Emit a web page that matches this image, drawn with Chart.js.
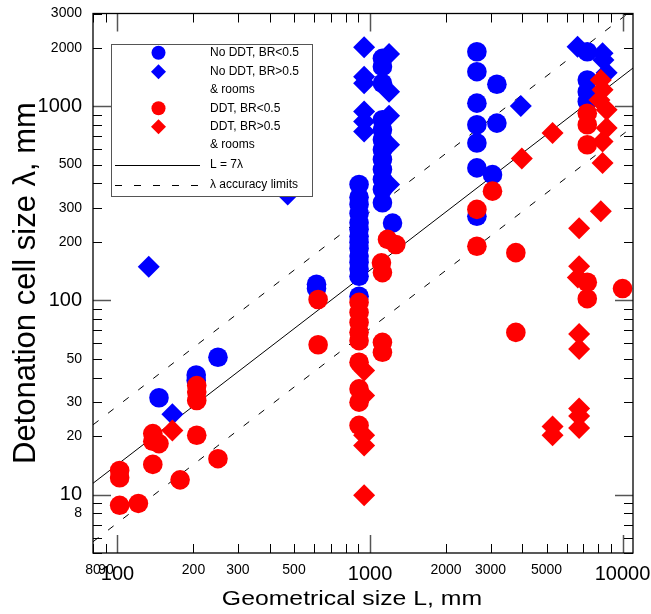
<!DOCTYPE html>
<html><head><meta charset="utf-8">
<script src="https://cdn.jsdelivr.net/npm/chart.js@4/dist/chart.umd.min.js"></script>
<style>html,body{margin:0;padding:0;background:#fff}#wrap{width:651px;height:614px}</style>
</head><body><div id="wrap"><canvas id="c" width="651" height="614"></canvas></div>
<script>
// ---- tick labels ----
const xTickValues = [80, 90, 100, 200, 300, 500, 1000, 2000, 3000, 5000, 10000];
const yTickValues = [8, 10, 20, 30, 50, 100, 200, 300, 500, 1000, 2000, 3000];
const bigTickValues = [10, 100, 1000, 10000];

// ---- data: geometrical size L (mm) and detonation cell size lambda (mm) ----
// No DDT, BR<0.5 (blue circles)
const noDdtLowL = [146, 205, 205, 250, 614, 614,
  905, 905, 905, 905, 905, 905, 905, 905, 905, 905, 905, 905, 905, 905,
  1120, 1120, 1120, 1120, 1120, 1120, 1120, 1120, 1120, 1120, 1120, 1120, 1228,
  2650, 2650, 3180, 2650, 2650, 3180, 2650, 2650, 3055, 2650,
  7250, 7250, 7250, 7250];
const noDdtLowLambda = [31.5, 41.3, 38.7, 50.9, 121, 115,
  395, 340, 312, 280, 251, 232, 214, 199, 185, 169, 157, 145, 133, 105,
  1763, 1597, 1312, 851, 755, 672, 597, 531, 472, 420, 372, 318, 250,
  1906, 1505, 1297, 1036, 802, 818, 646, 481, 444, 271,
  1906, 1364, 1188, 1057];
// No DDT, BR>0.5 & rooms (blue diamonds)
const noDdtHighL = [133, 165, 472,
  948, 948, 948, 948, 948, 948,
  1190, 1190, 1190, 1190, 1190,
  3956, 6634, 8333, 8400, 8650];
const noDdtHighLambda = [149, 25.9, 351,
  2008, 1419, 1312, 938, 834, 741,
  1855, 1188, 892, 633, 395,
  1003, 2022, 1870, 1729, 1487];
// DDT, BR<0.5 (red circles)
const ddtLowL = [102, 102, 102, 121, 138, 138, 146, 138, 177,
  206, 206, 206, 206, 250, 623, 623,
  905, 905, 905, 905, 905, 905, 905, 905, 905,
  1173, 1265, 1110, 1120, 1120, 1120,
  2650, 3055, 2650, 3780, 3780,
  7250, 7250, 7250, 7250, 7250, 10000];
const ddtLowLambda = [13.3, 12.2, 8.8, 9.0, 20.6, 18.8, 18.3, 14.3, 11.9,
  36.4, 33.7, 30.5, 20.2, 15.3, 101, 59.1,
  97.6, 86.7, 77, 68.5, 62, 48, 35, 29.9, 22.7,
  206, 194, 156, 139, 60.8, 54,
  294, 365, 190, 176, 68.4,
  920, 802, 633, 124, 102, 115];
// DDT, BR>0.5 & rooms (red diamonds)
const ddtHighL = [165,
  948, 948, 948, 948, 948,
  3992, 5283, 5283, 5283,
  6730, 6730, 6650, 6730, 6730, 6730, 6730, 6730,
  8204, 8333, 8100, 8650, 8650, 8333, 8333, 8204];
const ddtHighLambda = [21.4,
  43.5, 32.4, 20.2, 17.9, 9.93,
  537, 727, 22.4, 20.2,
  235, 150, 131, 67, 56.2, 27.7, 25.4, 22,
  1364, 1213, 1077, 957, 771, 658, 510, 288];

// ---- reference lines: L = 7 lambda, accuracy limits L = 3.5 lambda and L = 14 lambda ----
const lineL = [80, 11000];
const ratioMain = 7;
const ratioUpper = 3.5;
const ratioLower = 14;

const FONT = "'Liberation Sans', Arial, Helvetica, sans-serif";
const BLUE = '#0000ff';
const RED = '#ff0000';

function pts(L, lam) { return L.map((v, i) => ({ x: v, y: lam[i] })); }
function linePts(r) { return lineL.map(v => ({ x: v, y: v / r })); }

function decadeTicks(decades, lo, hi) {
  const out = [];
  decades.forEach(d => { for (let m = 1; m <= 9; m++) { const v = m * d; if (v >= lo && v <= hi) out.push(v); } });
  return out;
}
const xMarks = decadeTicks([10, 100, 1000, 10000], 80, 11000);
const yMarks = decadeTicks([1, 10, 100, 1000], 5, 3000);

const framePlugin = {
  id: 'frame',
  afterDatasetsDraw(chart) {
    const { ctx, chartArea: a, scales: { x, y } } = chart;
    ctx.save();
    const seg = (x1, y1, x2, y2) => { ctx.beginPath(); ctx.moveTo(x1, y1); ctx.lineTo(x2, y2); ctx.stroke(); };
    xMarks.forEach(v => {
      const p = Math.round(x.getPixelForValue(v)) + 0.5;
      const major = bigTickValues.includes(v);
      const len = major ? 18 : 9;
      ctx.strokeStyle = major ? '#555' : '#000';
      ctx.lineWidth = major ? 1.5 : 1;
      seg(p, a.bottom, p, a.bottom - len);
      seg(p, a.top, p, a.top + len);
    });
    yMarks.forEach(v => {
      const p = Math.round(y.getPixelForValue(v)) + 0.5;
      const major = bigTickValues.includes(v);
      const len = major ? 18 : 9;
      ctx.strokeStyle = major ? '#555' : '#000';
      ctx.lineWidth = major ? 1.5 : 1;
      seg(a.left, p, a.left + len, p);
      seg(a.right, p, a.right - len, p);
    });
    ctx.strokeStyle = '#000';
    ctx.lineWidth = 1.3;
    ctx.strokeRect(a.left, a.top, a.right - a.left, a.bottom - a.top);

    // axis titles
    ctx.fillStyle = '#000';
    ctx.textAlign = 'center';
    ctx.textBaseline = 'alphabetic';
    ctx.save();
    ctx.translate(352, 605);
    ctx.scale(1.18, 1);
    ctx.font = '21px ' + FONT;
    ctx.fillText('Geometrical size L, mm', 0, 0);
    ctx.restore();
    ctx.save();
    ctx.translate(35, 283);
    ctx.rotate(-Math.PI / 2);
    ctx.font = '31px ' + FONT;
    ctx.fillText('Detonation cell size \u03bb, mm', 0, 0);
    ctx.restore();
    ctx.restore();
  },
  afterDraw(chart) {
    const ctx = chart.ctx;
    ctx.save();
    ctx.fillStyle = '#fff';
    ctx.fillRect(111, 44, 201, 152);
    ctx.strokeStyle = '#555';
    ctx.lineWidth = 1;
    ctx.strokeRect(111.5, 44.5, 201, 152);
    const mx = 158.5;
    const rows = [52.7, 71.7, 90, 108.3, 126.7, 145, 165, 185];
    const circle = (yy, c) => { ctx.fillStyle = c; ctx.beginPath(); ctx.arc(mx, yy, 7, 0, Math.PI * 2); ctx.fill(); };
    const diamond = (yy, c) => { const r = 7.5; ctx.fillStyle = c; ctx.beginPath(); ctx.moveTo(mx - r, yy); ctx.lineTo(mx, yy - r); ctx.lineTo(mx + r, yy); ctx.lineTo(mx, yy + r); ctx.closePath(); ctx.fill(); };
    circle(rows[0], BLUE); diamond(rows[1], BLUE); circle(rows[3], RED); diamond(rows[4], RED);
    ctx.strokeStyle = '#000'; ctx.lineWidth = 1;
    ctx.beginPath(); ctx.moveTo(115, rows[6] + 0.5); ctx.lineTo(200, rows[6] + 0.5); ctx.stroke();
    ctx.setLineDash([7, 12]);
    ctx.beginPath(); ctx.moveTo(115, rows[7] + 0.5); ctx.lineTo(200, rows[7] + 0.5); ctx.stroke();
    ctx.setLineDash([]);
    const labels = ['No DDT, BR<0.5', 'No DDT, BR>0.5', '& rooms', 'DDT, BR<0.5', 'DDT, BR>0.5', '& rooms', 'L = 7\u03bb', '\u03bb accuracy limits'];
    ctx.fillStyle = '#000';
    ctx.font = '12px ' + FONT;
    ctx.textAlign = 'left';
    ctx.textBaseline = 'middle';
    labels.forEach((t, i) => ctx.fillText(t, 210, rows[i]));
    ctx.restore();
  }
};

const tickFont = (c) => ({ family: FONT, size: (c.tick && bigTickValues.includes(c.tick.value)) ? 20 : 14 });

new Chart(document.getElementById('c'), {
  type: 'scatter',
  data: {
    datasets: [
      { label: 'No DDT, BR<0.5', data: pts(noDdtLowL, noDdtLowLambda), pointStyle: 'circle', pointRadius: 9.8, pointHoverRadius: 9.8, backgroundColor: BLUE, borderWidth: 0, order: 4 },
      { label: 'No DDT, BR>0.5 & rooms', data: pts(noDdtHighL, noDdtHighLambda), pointStyle: 'rectRot', pointRadius: 11, pointHoverRadius: 11, backgroundColor: BLUE, borderWidth: 0, order: 3 },
      { label: 'DDT, BR<0.5', data: pts(ddtLowL, ddtLowLambda), pointStyle: 'circle', pointRadius: 9.8, pointHoverRadius: 9.8, backgroundColor: RED, borderWidth: 0, order: 2 },
      { label: 'DDT, BR>0.5 & rooms', data: pts(ddtHighL, ddtHighLambda), pointStyle: 'rectRot', pointRadius: 11, pointHoverRadius: 11, backgroundColor: RED, borderWidth: 0, order: 1 },
      { type: 'line', label: 'L = 7\u03bb', data: linePts(ratioMain), showLine: true, pointRadius: 0, borderColor: '#000', borderWidth: 1, order: 10 },
      { type: 'line', label: '\u03bb accuracy limits', data: linePts(ratioUpper), showLine: true, pointRadius: 0, borderColor: '#000', borderWidth: 1, borderDash: [7, 12], order: 11 },
      { type: 'line', label: '\u03bb accuracy limits (lower)', data: linePts(ratioLower), showLine: true, pointRadius: 0, borderColor: '#000', borderWidth: 1, borderDash: [7, 12], order: 12 }
    ]
  },
  options: {
    responsive: false,
    animation: false,
    devicePixelRatio: 1,
    layout: { padding: { left: 0, top: 13.5, right: 18, bottom: 0 } },
    plugins: { legend: { display: false }, tooltip: { enabled: false } },
    events: [],
    scales: {
      x: {
        type: 'logarithmic', position: 'bottom', min: 80, max: 11000,
        afterFit: s => { s.height = 61; s.paddingLeft = 0; s.paddingRight = 0; },
        afterBuildTicks: s => { s.ticks = xTickValues.map(v => ({ value: v })); },
        ticks: { autoSkip: false, maxRotation: 0, minRotation: 0, padding: 9, color: '#000', font: tickFont, callback: v => String(v) },
        grid: { display: false, drawTicks: false },
        border: { display: false }
      },
      y: {
        type: 'logarithmic', position: 'left', min: 5, max: 3000,
        afterFit: s => { s.width = 93; s.paddingTop = 0; s.paddingBottom = 0; },
        afterBuildTicks: s => { s.ticks = yTickValues.map(v => ({ value: v })); },
        ticks: { autoSkip: false, padding: 11, color: '#000', font: tickFont, callback: v => String(v) },
        grid: { display: false, drawTicks: false },
        border: { display: false }
      }
    }
  },
  plugins: [framePlugin]
});
</script>
</body></html>
